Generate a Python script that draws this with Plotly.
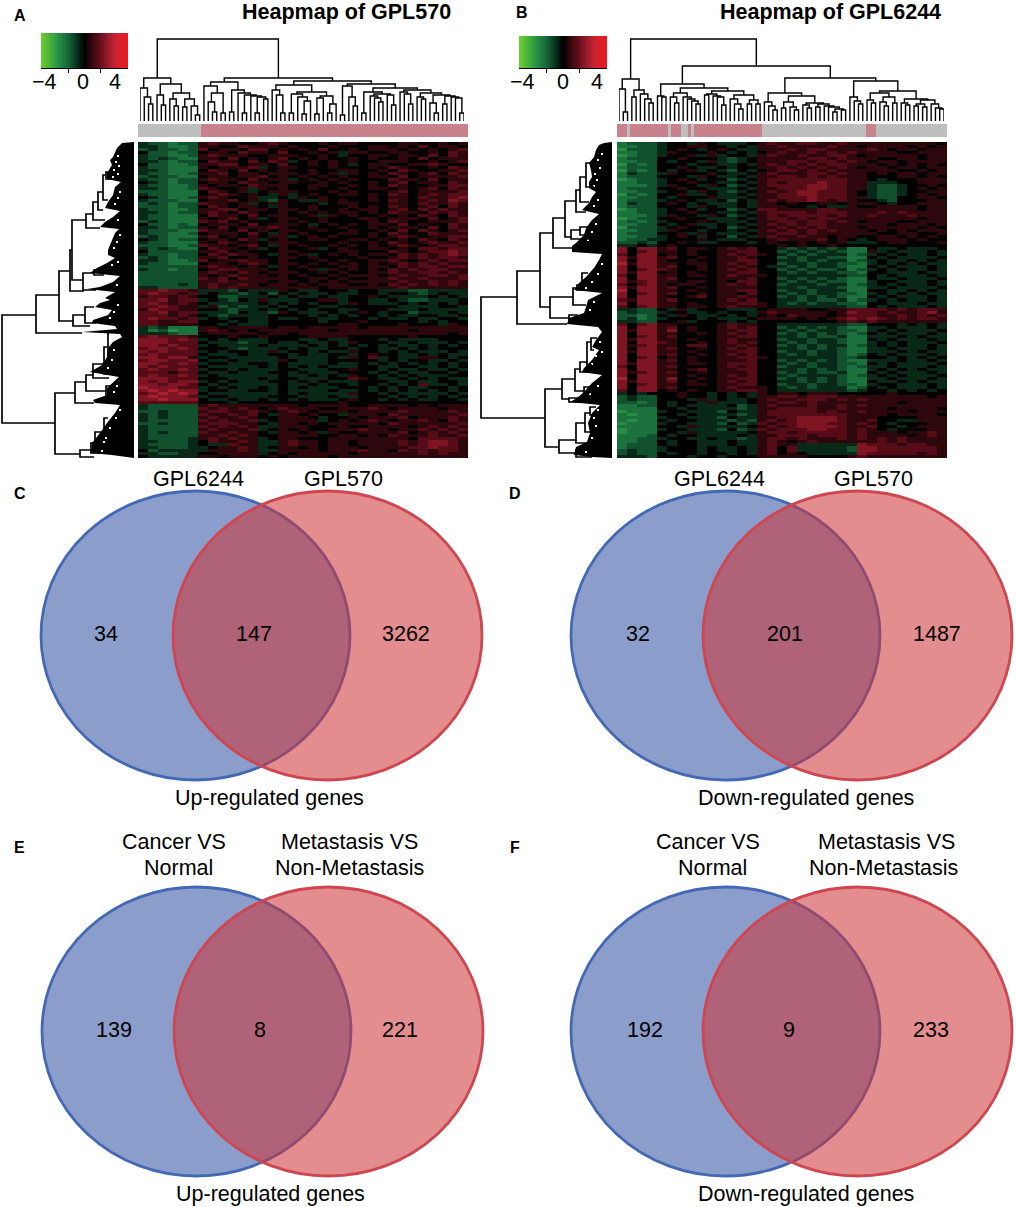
import plotly.graph_objects as go

W, H = 1016, 1207

# --- heatmap values, one digit per cell: digit minus 4 is the level ---
heat_a = [
    "322122 565544565 444545544 445544545", "332112 554465554 544454445 545464554",
    "232212 645546645 454644545 554545456", "422122 455465546 445453554 455445465",
    "322112 565554455 544543445 545546465", "323211 554645456 454544545 445464555",
    "332122 465546465 345454544 555445456", "422112 556645546 445454345 544556544",
    "322111 545556345 544454445 465445465", "332111 465464545 445445544 546544556",
    "322112 556455455 545453545 465456465", "232211 455455645 454545445 546455556",
    "322122 565546455 345454544 465546455", "432122 455465545 544545445 456455465",
    "322112 545546555 445544545 465445566", "332112 654453545 445445445 545456465",
    "222111 465453455 544454544 456455556", "322111 456545435 345445545 465456566",
    "432112 565445334 354544445 455465567", "322211 455645325 433545445 465456576",
    "232122 655453455 444345544 455465565", "222122 465455435 445444545 465456465",
    "322112 556645545 545445455 456465655", "332122 565465445 454545545 465546565",
    "322111 465546455 445354544 545465465", "322111 545645345 544544455 455546456",
    "232111 656454445 454544445 465445556", "422121 455546455 543454545 546454465",
    "332122 546455565 445445445 455546465", "322211 655464545 544544544 546465456",
    "322112 455546435 454445545 465446555", "232111 564545455 345454445 456545566",
    "432122 455465345 445544554 545465465", "322111 546545455 544445445 465456556",
    "222112 655456435 454454545 456545665", "323211 465545345 445345445 545466566",
    "422222 556454445 544445544 465456676", "322122 465655435 453454545 546565676",
    "232122 556445445 545444454 456565665", "332112 645565545 444545445 565456566",
    "322111 455456545 545454545 456565655", "222222 565545435 454445545 546566566",
    "322122 456655545 445354545 465656655", "222222 565465455 544545445 565566565",
    "222222 545655545 454454555 456556656", "222222 656465555 445545445 565565556",
    "222222 556555545 545454555 556556565", "222232 565565455 454555445 465656565",
    "332222 565655555 555455555 556555555",
    "667665 333243335 433444344 333223333", "676656 343323424 343343344 344323433",
    "566565 442233343 433433445 433334343", "667566 343243533 344553443 343223334",
    "676565 433333434 343443543 334343434", "667655 352323343 444334444 443333443",
    "576655 443233434 343443344 433343333", "667566 333243325 433343454 344233343",
    "666565 432333344 443434344 343344334", "676656 343443343 344334443 433433443",
    "665566 444343344 444344454 444434344", "665555 443433344 444445544 445444354",
    "323111 554555545 545555545 555555555", "312011 565454555 555545555 555455555",
    "333211 455555455 455555555 555555545",
    "676665 444544544 445555444 444544444", "777676 343433344 433433444 343333444",
    "777666 433323343 343343544 433433343", "776766 343333433 334343434 343343434",
    "677676 444323334 343344344 334343444", "767666 343443353 443433544 343433343",
    "676666 433343344 343344345 443343433", "776775 344333334 333343546 343355434",
    "677667 433433335 433344444 343443343", "776676 344334434 333343343 434343434",
    "767666 433333434 343433344 334433434", "676676 344343334 433344544 343343343",
    "666566 433433344 343334443 434334434", "676676 343333334 334343544 343433344",
    "777666 444333434 433344654 334343433", "767677 343433344 343433344 433433443",
    "776776 434333334 334344344 343463343", "877766 343433434 343334443 434334434",
    "787877 344334434 333343343 434343434", "678787 433333334 343333544 343333343",
    "787776 344333344 433343344 434343434", "778777 433433434 343334544 343433443",
    "666666 444344444 444445444 444444444",
    "322222 565555555 545555445 555454555", "322222 656565456 555445556 545555455",
    "223222 566556545 654555455 556555565", "323222 655656435 545443555 465555556",
    "323222 565565445 554344545 556455565", "322222 656556345 555345456 545565465",
    "223222 566655435 545455555 465555556", "322222 656565335 554445445 555456565",
    "322222 565556345 454455565 545565656", "323222 655655435 545354455 556456565",
    "322222 556565445 555445545 465556556", "322223 565655345 544455555 555466665",
    "332223 465565335 655455455 556567765", "322223 433655335 655455455 556567765",
    "332223 345565345 545455545 555667665", "423333 355565335 555455565 546565665",
    "332233 445555345 455555455 555565655", "433333 554555454 555545555 555555555",
]
heat_b = [
    "1222 3443543334 5655665565 555555554", "1122 3445544343 5565555655 455554545",
    "0222 3454345433 5556566555 565455455", "1122 3544454343 4565565656 555544555",
    "0122 3445353443 5655655665 455555455", "1222 4454443234 5555566565 554455455",
    "1122 4344353234 5556656656 545545555", "0212 4443443343 5656565665 554545454",
    "1222 4454334344 5565656565 455455455", "0212 4345343243 4566565655 555544545",
    "1322 3544454334 5655566565 545455455", "1222 4443543343 5566565655 544455454",
    "0122 3454344234 5666666665 543444555", "1122 3445443343 5656667665 533344555",
    "1112 3544354234 5666677665 532234454", "1222 4454433343 5566677665 532234545",
    "1122 3443543234 5656776665 432234455", "0212 4453343343 5566776665 432234545",
    "1122 4344453334 5566676665 532244554", "1222 3454334243 5656676565 443244455",
    "1322 4543433343 5545445545 554344555", "1222 4443543343 5554434335 445555455",
    "0122 3454344234 6655556655 555555455", "1122 3445443343 5666656665 556565555",
    "1112 3544354234 5656666565 565556555", "0122 4454433343 5665656655 555555455",
    "1212 3444543334 5566566565 455544555", "1122 4345334343 5656566555 555455545",
    "0222 3454434234 5565656555 455555454", "1122 3544344343 5656565655 545454555",
    "1222 4453543334 5566565555 554455445", "1122 3454344243 5655655455 445545454",
    "1223 3444543334 4565556454 345554544", "2232 4454334443 4544545453 334554445",
    "3343 4544444444 4454544544 444444444",
    "7477 5645545656 4432323231 143343334", "7467 5545445566 4423232321 153433343",
    "6477 4545445656 5432323331 234343343", "7577 5644545565 4423233221 143433334",
    "7477 5445445566 4433232331 234334343", "8577 5545545656 4423323322 134343433",
    "7477 5644545565 4332323321 143433343", "7467 6544545656 4423232231 234343343",
    "7577 4545445566 4432323322 144333433", "6477 5545545655 5433333332 243433343",
    "7477 5644445556 4423232321 143343334", "7567 5545545466 4432323221 134433343",
    "6467 5455445656 4423332331 234343343", "7577 5644545555 4433233321 133433334",
    "8477 5545445566 4423323331 144334343", "7467 5644545546 4432323322 134343433",
    "7477 5445645565 4423232321 143433343", "6577 5644445656 4433232231 234343343",
    "7477 5545445566 5432323322 144333433", "6467 5545545655 5433333332 243433343",
    "3322 4353444333 4555544556 666565665", "2322 3443343443 5655555457 665655675",
    "2212 4354334343 4546555456 665565656", "2312 3444343334 5555454567 676565665",
    "3322 4453444343 4444444456 565555555",
    "6467 5544445655 4433333332 244434343", "7477 5645445656 4423232321 133433343",
    "7577 5745445566 4432323322 134343334", "7477 5544545656 4423232321 243433343",
    "7467 5644445566 4433232231 133343433", "7577 5545445655 4423323321 143433343",
    "7477 6544545656 4432323321 134343334", "7567 5546645565 4423232331 234343343",
    "7477 5644545656 4433232321 133433343", "7577 5545445566 4423323321 133343433",
    "7477 5644545656 4432323321 243433343", "7467 4545445566 5433333322 344343434",
    "7477 5645445556 4423232321 133343343", "7577 5545545666 4432323322 143433334",
    "6477 5644445656 4423323321 233433343", "7477 5545645566 4433232321 134343433",
    "7567 5644545556 4423232231 143433343", "7477 5545445656 4432333321 234343334",
    "8477 5744545566 4423232321 133433343", "7577 5645445656 4433232321 143343433",
    "7467 5545545566 4423323322 134433343", "7477 5644445655 5432323331 243433343",
    "6477 4545445566 5433333332 344343434",
    "3434 4454434343 5455455544 444544444", "2322 4454434343 5566566655 555555545",
    "2322 4443534334 5655666565 655555555", "2212 4344353334 5566565555 555545555",
    "1122 4343333423 5655565565 655555555", "1111 4434333323 5566665565 555455554",
    "0111 3443332433 5666665655 655554555", "1011 4434333323 5666666665 555455554",
    "1111 3443332433 5566777765 554444555", "1011 4344333232 5656777765 564433555",
    "0111 3443332423 6566777665 654344455", "1111 4435333334 5656777765 564434555",
    "0111 3443332423 6566677665 654344455", "0111 4435333334 5665666665 655545565",
    "1112 4344333343 5566656665 655554565", "1122 3443343323 5665655565 656565555",
    "1122 4344333433 5654565555 556565555", "1222 4344333433 5655333333 766656655",
    "1222 3444343343 5646333332 776666665", "2322 3444343343 5646333332 776666665",
    "2322 4344344343 5645433333 766666565", "3332 4443443444 5555544445 655555555",
]
HEAT_STEP = 0.8

# --- sample groups under the column dendrograms: 0 normal, 1 cancer ---
groups_a = [0] * 15 + [1] * 63
groups_b = ([1] * 3 + [0] + [1] * 11 + [0] + [1] * 3 + [0] * 2 + [1] + [0] + [1] * 20
            + [0] * 31 + [1] * 3 + [0] * 21)

# --- column dendrograms: (height, left, right), 0 is a leaf ---
tree_a = (82,
    (43,
        (33, 0, (24, 0, (17, 0, 0))),
        (37, (26, 0, (16, 0, 0)),
             (28, (22, 0, (15, 0, 0)), (22, (14, 0, 0), (15, 0, (6, 0, 0)))))),
    (43,
        (39,
            (35, 0, (28, (19, 0, (9, 0, 0)), (8, 0, 0))),
            (31, (9, 0, 0), (28, 0, (26, (8, 0, 0), (25, 0, (24, (8, 0, 0), (22, 0, 0))))))),
        (40,
            (36,
                (31, 0, (26, 0, (8, 0, 0))),
                (29, (27, (8, 0, 0), (24, 0, (20, (7, 0, 0), 0))),
                     (25, (23, (7, 0, 0), 0), (17, (8, 0, 0), 0)))),
            (37,
                (35, (6, 0, 0), (24, 0, (15, 0, 0))),
                (33,
                    (29, (8, 0, 0), (27, (25, 0, (23, 0, (19, 0, 0))), (26, 0, (16, 0, 0)))),
                    (31, (29, 0, (27, 0, (17, 0, 0))),
                         (28, (24, 0, (22, 0, 0)),
                              (26, (18, 0, (8, 0, 0)),
                                   (25, (17, 0, 0), (24, 0, (23, 0, (8, 0, 0))))))))))))

tree_b = (82,
    (42,
        (32, 0, (9, 0, 0)),
        (31, (24, 0, 0), (27, 0, (22, 0, (18, 0, 0))))),
    (55,
        (37,
            (25, 0, (24, 0, 0)),
            (33,
                (28, (24, 0, (18, 0, 0)), (24, 0, (22, 0, (20, 0, (17, 0, 0))))),
                (30, (27, (26, 0, 0), (25, 0, (24, 0, (16, 0, 0)))),
                     (26, (22, 0, (17, 0, (12, 0, 0))), (21, (17, 0, 0), (17, 0, 0)))))),
        (43,
            (28,
                (19, 0, (15, 0, (11, 0, 0))),
                (25, (19, (13, 0, 0), (14, 0, (11, 0, 0))),
                     (18, (16, 0, (13, 0, 0)),
                          (17, (14, 0, 0), (15, 0, (14, 0, (12, (9, 0, 0), (11, 0, 0)))))))),
            (40,
                (24, 0, (20, 0, (17, 0, 0))),
                (30,
                    (28, (21, 0, (18, 0, 0)), (24, (19, 0, (15, 0, 0)), (18, 0, 0))),
                    (22, (18, 0, (16, 0, 0)),
                         (21, (17, (15, 0, 0), (14, 0, 0)), (17, 0, (13, 0, (12, 0, 0))))))))))

# --- row dendrograms: height, top row, bottom row, top child height, bottom child height ---
merges_a = [
    (132, 173, 281, 98, 79), (98, 153, 191, 75, 52), (75, 129, 179, 64, 61), (64, 108, 149, 62, 50),
    (62, 78, 138, 48, 51), (48, 72, 86, 41, 34), (41, 60, 78, 36, 29), (36, 50, 68, 31, 31),
    (31, 33, 58, 28, 26), (28, 30, 37, 20, 22), (51, 131, 148, 40, 38), (40, 128, 133, 30, 30),
    (61, 173, 184, 49, 44), (49, 165, 181, 40, 38), (79, 251, 312, 59, 54), (59, 240, 261, 48, 40),
    (48, 233, 249, 41, 28), (41, 222, 236, 30, 25), (30, 205, 232, 26, 25), (26, 190, 215, 22, 20),
    (28, 244, 256, 22, 24), (54, 308, 315, 43, 40), (43, 301, 311, 39, 34), (39, 290, 305, 30, 34),
    (30, 276, 293, 26, 22),
]
merges_b = [
    (131, 155, 276, 95, 67), (95, 129, 182, 72, 45), (72, 91, 165, 59, 62), (59, 76, 106, 47, 39),
    (47, 59, 95, 36, 41), (36, 48, 70, 32, 26), (32, 35, 60, 26, 23), (26, 21, 45, 21, 18),
    (41, 88, 97, 32, 23), (32, 85, 93, 21, 18), (62, 155, 176, 39, 43), (39, 146, 163, 35, 26),
    (35, 143, 148, 30, 25), (30, 131, 143, 24, 26), (43, 173, 180, 34, 30), (67, 247, 305, 50, 53),
    (50, 237, 257, 37, 43), (37, 227, 249, 32, 28), (32, 220, 230, 25, 23), (25, 200, 223, 21, 20),
    (21, 196, 208, 15, 18), (28, 245, 251, 20, 22), (43, 256, 260, 25, 22), (53, 298, 311, 36, 36),
    (36, 281, 301, 27, 23), (27, 271, 290, 22, 20), (22, 265, 273, 16, 18), (36, 308, 315, 22, 20),
]

# left outline of the solid leaf mass: row, height
mass_rows_a = [1, 6, 15, 18, 23, 31, 37, 40, 45, 53, 60, 66, 69, 75, 80, 85, 87, 91, 98, 108, 113, 116,
               121, 126, 131, 134, 140, 145, 147, 150, 156, 158, 161, 165, 168, 173, 178, 181, 184, 187,
               190, 192, 195, 200, 206, 215, 223, 230, 235, 241, 246, 253, 258, 261, 263, 271, 281, 291,
               301, 305, 311, 313]
mass_h_a = [12, 17, 21, 24, 22, 27, 27, 13, 19, 21, 26, 29, 14, 21, 29, 34, 15, 19, 22, 26, 26, 19,
            27, 37, 44, 14, 21, 34, 47, 19, 29, 24, 34, 39, 22, 26, 41, 42, 19, 17,
            52, 14, 12, 21, 26, 27, 32, 44, 15, 21, 27, 27, 41, 39, 14, 19, 27, 34,
            42, 42, 44, 22]
mass_rows_b = [1, 3, 8, 15, 21, 28, 35, 40, 46, 50, 55, 61, 68, 72, 78, 86, 93, 101, 104, 110, 112, 118,
               126, 135, 141, 148, 151, 156, 158, 165, 171, 176, 180, 182, 185, 190, 198, 205, 208, 218,
               226, 230, 233, 241, 250, 256, 260, 263, 271, 281, 291, 300, 305, 313, 315]
mass_h_b = [8, 13, 16, 18, 23, 21, 20, 23, 23, 16, 20, 23, 30, 13, 20, 26, 28, 36, 40, 40, 10, 13,
            18, 26, 33, 38, 10, 20, 24, 26, 28, 43, 44, 45, 14, 10, 16, 20, 13, 20,
            28, 30, 10, 20, 28, 35, 42, 12, 20, 24, 22, 25, 36, 38, 20]

# white specks along the leaf mass: row, height
speck_rows_a = [14, 20, 24, 28, 32, 35, 50, 56, 62, 78, 93, 100, 106, 120, 123, 143, 163, 170, 176,
                208, 218, 226, 244, 250, 268, 276, 286, 296, 300, 309]
speck_h_a = [16, 18, 15, 20, 16, 21, 14, 16, 19, 16, 14, 17, 20, 16, 22, 17, 16, 20, 24,
             20, 22, 26, 17, 20, 14, 18, 24, 28, 30, 32]
speck_rows_b = [12, 18, 26, 32, 38, 44, 58, 64, 82, 90, 98, 122, 132, 140, 146, 160, 168,
                200, 210, 214, 222, 244, 252, 268, 276, 284, 296, 310]
speck_h_b = [10, 14, 12, 17, 15, 18, 14, 18, 16, 20, 24, 10, 14, 20, 26, 18, 22,
             12, 10, 16, 20, 14, 22, 14, 18, 16, 20, 26]

# --- venn counts ---
venn_c = ["34", "147", "3262"]
venn_d = ["32", "201", "1487"]
venn_e = ["139", "8", "221"]
venn_f = ["192", "9", "233"]

green_red = [
    [0.0, "rgb(115,205,50)"], [0.13, "rgb(60,170,60)"], [0.22, "rgb(35,135,70)"], [0.315, "rgb(22,100,55)"],
    [0.41, "rgb(10,50,28)"], [0.5, "rgb(0,0,0)"], [0.59, "rgb(55,8,14)"], [0.685, "rgb(105,15,28)"],
    [0.78, "rgb(160,30,45)"], [0.87, "rgb(205,35,50)"], [1.0, "rgb(240,20,25)"],
]
group_colors = [[0, "rgb(190,190,190)"], [1, "rgb(200,130,140)"]]
Z_MAX = 5.4

fig = go.Figure()
layout = {}
axis_no = 0


def new_axes(box, xr, yr, **xopts):
    """Axes covering a pixel box (left, top, right, bottom) of the page."""
    global axis_no
    axis_no += 1
    x0, y0, x1, y1 = box
    layout[f"xaxis{axis_no}"] = dict(domain=[x0 / W, x1 / W], range=xr, visible=False, anchor=f"y{axis_no}", **xopts)
    layout[f"yaxis{axis_no}"] = dict(domain=[1 - y1 / H, 1 - y0 / H], range=yr, visible=False, anchor=f"x{axis_no}")
    return f"x{axis_no}", f"y{axis_no}"


def label(x, y, text, size=21.5, bold=False):
    fig.add_annotation(x=x / W, y=1 - y / H, xref="paper", yref="paper", text=f"<b>{text}</b>" if bold else text,
                       showarrow=False, xanchor="center", yanchor="middle",
                       font=dict(size=size, color="black", family="Liberation Sans"))


def tree_lines(tree):
    xs, ys = [], []
    next_leaf = [0]

    def walk(node):
        if node == 0:
            next_leaf[0] += 1
            return next_leaf[0] - 1, 0
        h, a, b = node
        xa, ha = walk(a)
        xb, hb = walk(b)
        xs.extend([xa, xa, xb, xb, None])
        ys.extend([ha, h, h, hb, None])
        return (xa + xb) / 2, h

    walk(tree)
    return xs, ys, next_leaf[0]


def heatmap_panel(rows, groups, tree, merges, mass_rows, mass_h, speck_rows, speck_h, box):
    left, right = box["heat"]
    z = [[(int(c) - 4) * HEAT_STEP for c in r.replace(" ", "")] for r in rows]
    assert all(len(r) == 33 for r in z)

    xa, ya = new_axes((left, 142, right, 458), [-0.5, 32.5], [len(z) - 0.5, -0.5])
    fig.add_trace(go.Heatmap(z=z, xaxis=xa, yaxis=ya, colorscale=green_red, zmin=-Z_MAX, zmax=Z_MAX,
                             showscale=False, hoverinfo="skip"))

    # sample group strip
    xa, ya = new_axes((left, 124, right, 137), [-0.5, len(groups) - 0.5], [-0.5, 0.5])
    fig.add_trace(go.Heatmap(z=[groups], xaxis=xa, yaxis=ya, colorscale=group_colors, zmin=0, zmax=1,
                             showscale=False, hoverinfo="skip"))

    # column dendrogram
    xs, ys, n = tree_lines(tree)
    xa, ya = new_axes((box["leaf0"], 37, box["leaf1"], 121), [0, n - 1], [0, 84])
    fig.add_trace(go.Scatter(x=xs, y=ys, xaxis=xa, yaxis=ya, mode="lines", line=dict(color="black", width=1.4),
                             hoverinfo="skip"))

    # row dendrogram
    xa, ya = new_axes((box["side"], 142, box["side"] + 134, 458), [134, 0], [316, 0])
    fig.add_trace(go.Scatter(x=[0] + mass_h + [0], y=[0] + mass_rows + [316], xaxis=xa, yaxis=ya, mode="lines",
                             fill="toself", fillcolor="black", line=dict(width=0), hoverinfo="skip"))
    fig.add_trace(go.Scatter(x=speck_h, y=speck_rows, xaxis=xa, yaxis=ya, mode="markers",
                             marker=dict(color="white", size=2, symbol="square"), hoverinfo="skip"))
    xs, ys = [], []
    for h, top, bottom, h_top, h_bottom in merges:
        xs.extend([h_top, h, h, h_bottom, None])
        ys.extend([top, top, bottom, bottom, None])
    fig.add_trace(go.Scatter(x=xs, y=ys, xaxis=xa, yaxis=ya, mode="lines", line=dict(color="black", width=1.7),
                             hoverinfo="skip"))

    # colour key
    key_vals = [i / 10 for i in range(-54, 55)]
    xa, ya = new_axes(box["key"], [-Z_MAX, Z_MAX], [-0.5, 0.5])
    layout[xa.replace("x", "xaxis")].update(visible=True, tickvals=[-2, 2], ticks="outside", ticklen=4, tickcolor="black",
                                            showticklabels=False, showgrid=False, zeroline=False, showline=True,
                                            linecolor="black", linewidth=1)
    fig.add_trace(go.Heatmap(z=[key_vals], x=key_vals, xaxis=xa, yaxis=ya, colorscale=green_red, zmin=-Z_MAX, zmax=Z_MAX,
                             showscale=False, hoverinfo="skip"))
    for x, t in zip(box["key_text"], ["−4", "0", "4"]):
        label(x, 82, t)


heatmap_panel(heat_a, groups_a, tree_a, merges_a, mass_rows_a, mass_h_a, speck_rows_a, speck_h_a,
              dict(heat=(138, 468), leaf0=140, leaf1=464, side=0, key=(41, 33, 128, 68), key_text=(44, 83, 115)))
heatmap_panel(heat_b, groups_b, tree_b, merges_b, mass_rows_b, mass_h_b, speck_rows_b, speck_h_b,
              dict(heat=(617, 947), leaf0=619, leaf1=944, side=478, key=(519, 36, 607, 68), key_text=(522, 563, 597)))

label(346, 12, "Heapmap of GPL570", bold=True)
label(830, 12, "Heapmap of GPL6244", bold=True)
label(20, 16, "A", 16, True)
label(522, 12, "B", 16, True)

# --- venn diagrams ---
shapes = []
VENN_W, VENN_H, VENN_SHIFT, PAD = 309, 289, 132, 3
for left, top in [(41, 491), (571, 491), (42, 887), (571, 887)]:
    xa, ya = new_axes((left - PAD, top - PAD, left + VENN_W + VENN_SHIFT + PAD, top + VENN_H + PAD),
                      [-PAD, VENN_W + VENN_SHIFT + PAD], [-PAD, VENN_H + PAD])
    shapes.append(dict(type="circle", xref=xa, yref=ya, x0=0, x1=VENN_W, y0=0, y1=VENN_H, layer="above",
                       fillcolor="rgba(62,93,168,0.6)", line=dict(color="rgb(68,105,180)", width=2.8)))
    shapes.append(dict(type="circle", xref=xa, yref=ya, x0=VENN_SHIFT, x1=VENN_SHIFT + VENN_W, y0=0, y1=VENN_H, layer="above",
                       fillcolor="rgba(205,51,55,0.56)", line=dict(color="rgb(205,70,80)", width=2.8)))

for x, t in zip([106, 254, 406], venn_c):
    label(x, 634, t)
for x, t in zip([638, 785, 937], venn_d):
    label(x, 634, t)
for x, t in zip([114, 260, 400], venn_e):
    label(x, 1030, t)
for x, t in zip([645, 789, 931], venn_f):
    label(x, 1030, t)

label(198, 479, "GPL6244")
label(343, 479, "GPL570")
label(719, 479, "GPL6244")
label(873, 479, "GPL570")
label(269, 798, "Up-regulated genes")
label(806, 798, "Down-regulated genes")
label(174, 842, "Cancer VS")
label(178, 868, "Normal")
label(349, 842, "Metastasis VS")
label(349, 868, "Non-Metastasis")
label(708, 842, "Cancer VS")
label(712, 868, "Normal")
label(886, 842, "Metastasis VS")
label(883, 868, "Non-Metastasis")
label(270, 1194, "Up-regulated genes")
label(806, 1194, "Down-regulated genes")
label(20, 493, "C", 16, True)
label(515, 493, "D", 16, True)
label(19, 847, "E", 16, True)
label(515, 847, "F", 16, True)

fig.update_layout(width=W, height=H, margin=dict(l=0, r=0, t=0, b=0), paper_bgcolor="white", plot_bgcolor="rgba(0,0,0,0)",
                  showlegend=False, shapes=shapes, **layout)

fig.write_html("out.html", config=dict(displayModeBar=False), post_script="document.body.style.margin='0';")
